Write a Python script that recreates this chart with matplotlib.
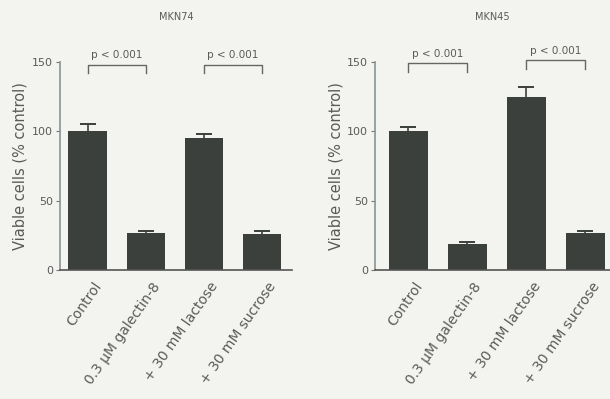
import numpy as np
from matplotlib import pyplot as plt

categorias = ["Control", "0.3 \u03bcM galectin-8", "+ 30 mM lactose", "+ 30 mM sucrose"]
mkn74_vals = [100, 27, 95, 26]
mkn74_err = [5, 1, 3, 2]
mkn45_vals = [100, 19, 125, 27]
mkn45_err = [3, 1, 7, 1]
ticks_y = [0, 50, 100, 150]

bg = "#f3f3ef"
cor_barra = "#3b403d"
cor_texto = "#5a5a5a"

fig = plt.figure(figsize=(6.10, 3.99), dpi=100, facecolor=bg)

def painel(rect, titulo, vals, errs, xlim, pares, ylinhas):
    ax = fig.add_axes(rect)
    ax.set_facecolor(bg)
    x = np.arange(len(vals))
    ax.bar(x, vals, width=0.66, color=cor_barra, yerr=errs,
           error_kw=dict(ecolor=cor_barra, capsize=6, elinewidth=1.2, capthick=1.4))
    ax.set_xlim(*xlim)
    ax.set_ylim(0, 150)
    ax.set_yticks(ticks_y)
    ax.set_yticklabels([str(t) for t in ticks_y], fontsize=8, color=cor_texto)
    ax.set_xticks(x + 0.1)
    ax.set_xticklabels(categorias, rotation=55, ha="right", rotation_mode="anchor",
                       fontsize=10, color=cor_texto)
    ax.tick_params(axis="x", length=0, pad=7)
    ax.tick_params(axis="y", length=3, color="#777777", pad=2)
    for s in ["top", "right"]:
        ax.spines[s].set_visible(False)
    ax.spines["left"].set_color("#8a9296")
    ax.spines["bottom"].set_color("#555555")
    ax.spines["left"].set_linewidth(1.2)
    ax.spines["bottom"].set_linewidth(1.2)
    ax.set_ylabel("Viable cells (% control)", fontsize=10.5, color=cor_texto, labelpad=3)
    ax.set_title(titulo, fontsize=7, color=cor_texto, pad=30)
    for (a, b), yl in zip(pares, ylinhas):
        ax.plot([a, a, b, b], [yl - 6, yl, yl, yl - 6], color="#666666", lw=1,
                clip_on=False)
        ax.text((a + b) / 2, yl + 3, "p < 0.001", ha="center", va="bottom",
                fontsize=7.5, color=cor_texto, clip_on=False)
    return ax

painel([0.098, 0.323, 0.381, 0.522], "MKN74", mkn74_vals, mkn74_err,
       (-0.48, 3.52), [(0, 1), (2, 3)], [148, 148])
painel([0.615, 0.323, 0.385, 0.522], "MKN45", mkn45_vals, mkn45_err,
       (-0.56, 3.42), [(0, 1), (2, 3)], [149, 151])

plt.savefig("out.png", dpi=100, facecolor=bg)
